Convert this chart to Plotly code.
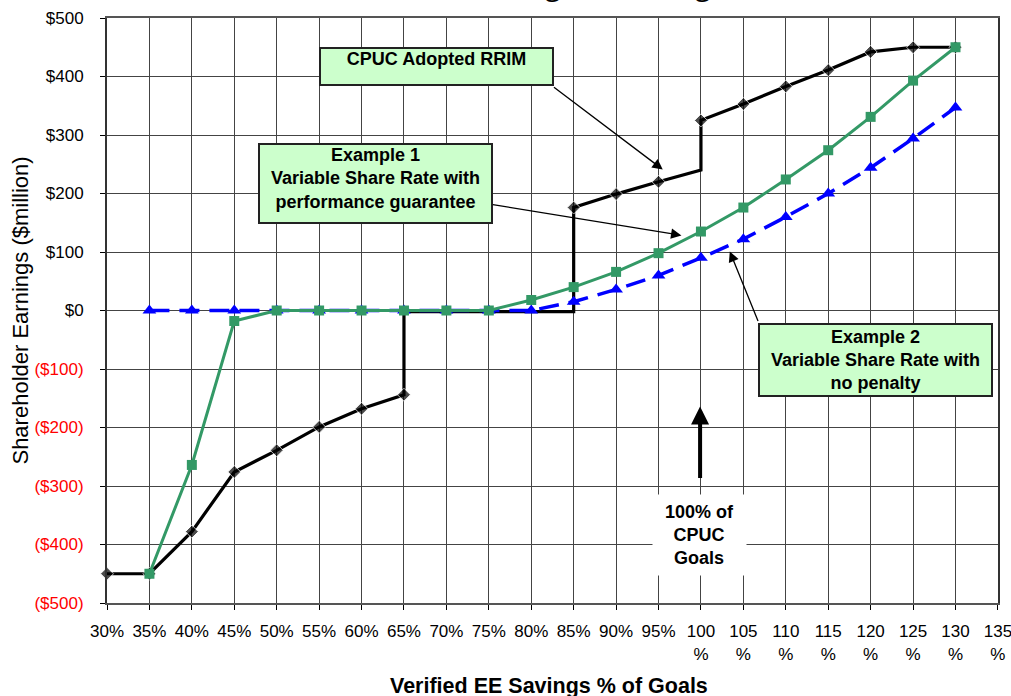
import plotly.graph_objects as go

# ---------------- data ----------------
pct_x = [35, 40, 45, 50, 55, 60, 65, 70, 75, 80, 85, 90, 95, 100, 105, 110, 115, 120, 125, 130]

# CPUC Adopted RRIM (with step jumps at 65%, 85% and 100%)
rrim_x = [30, 35, 40, 45, 50, 55, 60, 65, 65, 70, 75, 80, 85, 85, 90, 95, 100, 100, 105, 110, 115, 120, 125, 130]
rrim_y = [-450, -450, -378, -276, -239, -199, -168, -144, -2, -2, -2, -2, -2, 176, 199, 220, 240, 325, 353, 383, 411, 442, 450, 450]
rrim_marker = [1, 1, 1, 1, 1, 1, 1, 1, 0, 0, 0, 0, 0, 1, 1, 1, 0, 1, 1, 1, 1, 1, 1, 1]

# Example 1: Variable share rate with performance guarantee
ex1_y = [-450, -264, -18, 0, 0, 0, 0, 0, 0, 18, 40, 66, 98, 135, 176, 224, 274, 331, 393, 450]

# Example 2: Variable share rate with no penalty
ex2_y = [0, 0, 0, 0, 0, 0, 0, 0, 0, 0, 15, 36, 60, 90, 122, 160, 200, 244, 294, 347]

x_tick_vals = [30, 35, 40, 45, 50, 55, 60, 65, 70, 75, 80, 85, 90, 95, 100, 105, 110, 115, 120, 125, 130, 135]
x_tick_text = ["30%", "35%", "40%", "45%", "50%", "55%", "60%", "65%", "70%", "75%", "80%", "85%", "90%", "95%",
               "100<br>%", "105<br>%", "110<br>%", "115<br>%", "120<br>%", "125<br>%", "130<br>%", "135<br>%"]
y_tick_vals = [-500, -400, -300, -200, -100, 0, 100, 200, 300, 400, 500]
y_tick_text = ["($500)", "($400)", "($300)", "($200)", "($100)", "$0", "$100", "$200", "$300", "$400", "$500"]

FONT = "Arial, Liberation Sans, sans-serif"
BOX_FILL = "#CCFFCC"

# ---------------- figure ----------------
fig = go.Figure()

fig.add_trace(go.Scatter(
    x=rrim_x, y=rrim_y, mode="lines+markers", name="CPUC Adopted RRIM",
    line=dict(color="black", width=3.2),
    marker=dict(symbol="diamond", size=[10 * m for m in rrim_marker], color="black"),
    cliponaxis=False,
))
fig.add_trace(go.Scatter(
    x=pct_x, y=ex2_y, mode="lines+markers", name="Example 2",
    line=dict(color="#0000FF", width=3.5, dash="20px,10px"),
    marker=dict(symbol="triangle-up", size=12, color="#0000FF"),
))
fig.add_trace(go.Scatter(
    x=pct_x, y=ex1_y, mode="lines+markers", name="Example 1",
    line=dict(color="#339966", width=3),
    marker=dict(symbol="square", size=10, color="#339966"),
))

y_colored = [f'<span style="color:red">{t}</span>' if v < 0 else t for t, v in zip(y_tick_text, y_tick_vals)]

fig.update_layout(
    width=1011, height=696,
    margin=dict(l=107, r=13, t=18, b=93),
    paper_bgcolor="white", plot_bgcolor="white",
    showlegend=False,
    font=dict(family=FONT, size=17, color="black"),
    xaxis=dict(
        range=[30, 135.01], tickvals=x_tick_vals, ticktext=x_tick_text, automargin=False,
        showgrid=True, gridcolor="#444444", gridwidth=1,
        showline=True, linecolor="#555555", linewidth=2, mirror=True,
        ticks="outside", ticklen=5, tickcolor="black",
        ticklabelstandoff=7, ticklabeloverflow="allow", zeroline=False,
        tickfont=dict(family=FONT, size=17),
    ),
    yaxis=dict(
        range=[-500, 500], tickvals=y_tick_vals, ticktext=y_colored, automargin=False,
        showgrid=True, gridcolor="#444444", gridwidth=1,
        showline=True, linecolor="#333333", linewidth=2, mirror=True,
        ticks="outside", ticklen=5, tickcolor="black",
        ticklabelstandoff=13, zeroline=False,
        tickfont=dict(family=FONT, size=17),
    ),
)

annotations = []
# chart title, mostly cut off by the top edge of the picture
annotations.append(dict(
    text="<b>Shareholder Earnings vs. Savings Goals</b>", xref="paper", yref="paper",
    x=0.4916, y=1.0, xanchor="center", yanchor="bottom", yshift=13.5, showarrow=False,
    font=dict(family="Liberation Serif, Times New Roman, serif", size=30.5, color="black"),
))
# axis titles
annotations.append(dict(
    text="<b>Verified EE Savings % of Goals</b>", xref="paper", yref="paper",
    x=0.4965, y=-0.142, yanchor="middle", showarrow=False,
    font=dict(family=FONT, size=21.5, color="black"),
))
annotations.append(dict(
    text="Shareholder Earnings ($million)", xref="paper", yref="paper",
    x=-0.0976, y=0.5, xanchor="center", yanchor="middle", textangle=-90, showarrow=False,
    font=dict(family=FONT, size=22, color="black"),
))

# labelled boxes
annotations.append(dict(
    text="<b>CPUC Adopted RRIM</b>", x=68.8, y=417, xref="x", yref="y",
    showarrow=False, bgcolor=BOX_FILL, bordercolor="#222222", borderwidth=2, borderpad=0,
    width=231, height=35, valign="top", font=dict(family=FONT, size=18, color="black"),
))
annotations.append(dict(
    text="<b>Example 1<br>Variable Share Rate with<br>performance guarantee</b>", x=61.6, y=216.6,
    xref="x", yref="y", showarrow=False, bgcolor=BOX_FILL, bordercolor="#222222",
    borderwidth=2, borderpad=0, width=231, height=77, valign="top",
    font=dict(family=FONT, size=18, color="black"),
))
annotations.append(dict(
    text="<b>Example 2<br>Variable Share Rate with<br>no penalty</b>", x=120.6, y=-83.9,
    xref="x", yref="y", showarrow=False, bgcolor=BOX_FILL, bordercolor="#222222",
    borderwidth=2, borderpad=0, width=231, height=70,
    font=dict(family=FONT, size=18, color="black"),
))
annotations.append(dict(
    text="<b>100% of<br>CPUC<br>Goals</b>", x=99.8, y=-383.6, xref="x", yref="y",
    showarrow=False, bgcolor="white", borderpad=0, width=93, height=80,
    font=dict(family=FONT, size=18, color="black"),
))

# arrows (head at x,y ; tail at ax,ay)
arrows = [
    (95.5, 241, 82.5, 383.6, 1.3),
    (97.7, 128.4, 75.3, 181.5, 1.3),
    (103.4, 101, 106.8, -20.5, 1.3),
]
for hx, hy, tx, ty, w in arrows:
    annotations.append(dict(
        x=hx, y=hy, ax=tx, ay=ty, xref="x", yref="y", axref="x", ayref="y",
        text="", showarrow=True, arrowhead=2, arrowsize=1.6, arrowwidth=w, arrowcolor="black",
        standoff=0, startstandoff=0,
    ))
annotations.append(dict(
    x=99.9, y=-164, ax=99.9, ay=-289, xref="x", yref="y", axref="x", ayref="y",
    text="", showarrow=True, arrowhead=2, arrowsize=0.9, arrowwidth=4, arrowcolor="black",
    standoff=0,
))

fig.update_layout(annotations=annotations)

# remove the browser's default page margin so the figure sits at the top-left corner
fig.write_html(
    "out.html",
    config={"displayModeBar": False},
    post_script="document.body.style.margin='0';document.body.style.overflow='hidden';",
)
